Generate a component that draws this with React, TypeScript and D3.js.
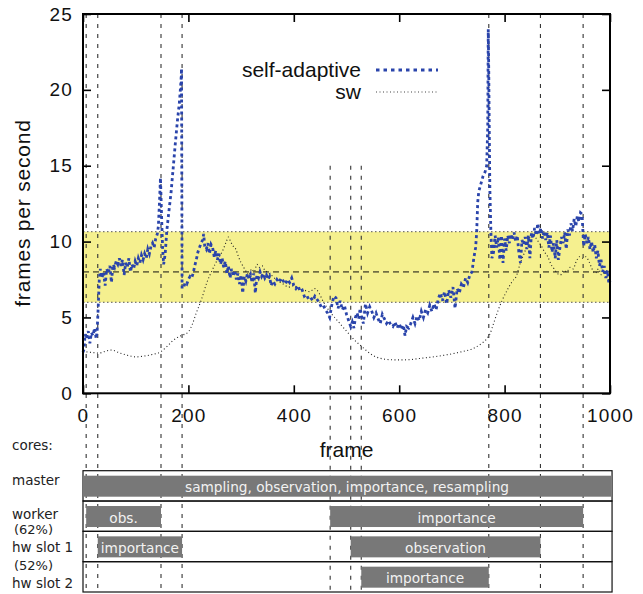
import React, { useEffect, useRef } from "react";
import * as d3 from "d3";

// self-adaptive run (frames per second)
const adaptiveFrames = [
  0, 2, 4, 7, 10, 13, 16, 19, 22, 25, 27, 29, 31, 33, 36, 39, 42, 45, 48, 51, 54, 57, 60, 63, 66, 69, 72, 75, 78, 81,
  84, 87, 90, 93, 96, 99, 102, 105, 108, 111, 114, 117, 120, 123, 126, 129, 132, 135, 138, 141, 143, 145, 147, 149, 151,
  153, 156, 159, 163, 167, 171, 175, 179, 183, 186, 187, 188, 191, 194, 197, 200, 203, 206, 209, 212, 215, 218, 221, 224,
  227, 229, 231, 234, 237, 240, 243, 246, 249, 252, 255, 258, 261, 264, 267, 270, 273, 276, 279, 282, 285, 288, 291, 294,
  297, 300, 303, 306, 309, 312, 315, 318, 321, 324, 327, 330, 333, 336, 339, 342, 345, 348, 351, 354, 357, 360, 364, 368,
  372, 376, 380, 384, 388, 392, 396, 400, 404, 408, 412, 416, 420, 424, 428, 432, 436, 440, 444, 448, 452, 456, 460, 464,
  468, 472, 476, 480, 484, 488, 492, 496, 500, 504, 508, 511, 514, 517, 520, 523, 526, 529, 532, 536, 540, 544, 548, 552,
  556, 560, 564, 568, 572, 576, 580, 584, 588, 592, 596, 600, 604, 608, 611, 614, 618, 622, 626, 630, 634, 638, 642, 646,
  650, 654, 658, 662, 666, 670, 674, 678, 682, 686, 690, 694, 698, 702, 706, 710, 714, 718, 722, 726, 730, 734, 738, 742,
  745, 747, 749, 751, 755, 759, 763, 766, 768, 769, 770, 771, 772, 774, 776, 779, 782, 785, 788, 791, 794, 797, 800, 803,
  806, 809, 812, 815, 818, 821, 824, 827, 830, 833, 836, 839, 842, 845, 848, 851, 854, 857, 860, 863, 866, 869, 872, 875,
  878, 881, 884, 887, 890, 893, 896, 899, 902, 905, 908, 911, 914, 917, 920, 923, 926, 929, 932, 935, 938, 941, 944, 947,
  950, 953, 956, 959, 962, 965, 968, 971, 974, 977, 980, 983, 986, 989, 992, 995, 998, 1000,
];
const adaptiveFps = [
  2.7, 2.9, 3.9, 3.6, 4.1, 3.3, 4.0, 3.8, 4.3, 3.6, 4.2, 5.8, 7.6, 8.2, 7.6, 8.0, 7.1, 8.2, 7.9, 8.4, 7.3, 8.5, 8.3, 8.7,
  8.5, 8.9, 8.4, 8.8, 7.8, 8.6, 8.3, 8.9, 8.0, 8.5, 8.2, 8.7, 8.4, 8.9, 8.6, 9.1, 8.8, 9.2, 8.9, 9.5, 9.2, 9.7, 9.9, 9.6,
  10.2, 10.5, 11.0, 12.5, 14.2, 11.8, 9.6, 8.5, 9.2, 10.7, 12.0, 13.2, 14.8, 16.4, 17.9, 19.2, 20.6, 21.4, 6.9, 7.0, 7.3,
  7.2, 7.5, 7.7, 7.6, 7.9, 8.4, 8.8, 9.3, 9.6, 9.9, 10.1, 10.5, 9.7, 9.5, 9.9, 9.2, 9.8, 9.6, 9.0, 9.4, 8.8, 9.2, 8.5,
  8.9, 8.3, 8.7, 7.9, 8.4, 7.6, 8.2, 7.7, 8.1, 7.5, 7.9, 7.2, 7.8, 6.6, 7.7, 7.4, 7.9, 7.5, 7.8, 7.3, 7.9, 6.6, 7.8, 7.6,
  8.0, 7.7, 7.9, 7.6, 7.8, 7.5, 7.7, 7.1, 7.4, 7.2, 7.5, 7.3, 7.6, 7.4, 7.2, 7.5, 7.3, 7.6, 7.1, 6.9, 7.1, 6.7, 6.8, 6.4,
  6.5, 6.2, 6.3, 6.1, 6.4, 6.2, 6.0, 5.7, 5.8, 5.5, 5.3, 5.0, 5.8, 6.4, 6.3, 5.6, 6.1, 5.5, 5.8, 5.2, 4.8, 4.4, 4.7, 4.3,
  5.0, 5.3, 4.9, 5.6, 5.0, 4.6, 5.9, 5.3, 5.7, 5.4, 5.0, 5.3, 4.9, 4.6, 5.2, 4.9, 4.6, 4.8, 4.5, 4.4, 4.7, 4.3, 4.6, 4.2,
  4.5, 3.8, 4.4, 4.3, 4.6, 5.0, 4.6, 5.1, 4.8, 5.4, 5.0, 5.5, 5.3, 5.8, 5.4, 5.9, 5.5, 6.2, 6.6, 6.1, 6.7, 5.9, 6.8, 6.3,
  7.0, 5.6, 6.9, 6.6, 7.2, 7.0, 7.6, 7.3, 7.8, 8.0, 9.0, 9.6, 10.6, 12.6, 13.3, 13.8, 14.3, 14.6, 15.0, 17.5, 24.0, 21.0,
  17.0, 13.5, 10.6, 8.9, 9.3, 10.4, 9.6, 10.3, 8.8, 10.4, 8.6, 10.2, 9.4, 10.4, 9.9, 10.5, 10.1, 10.6, 10.0, 10.4, 9.3,
  8.6, 10.1, 9.8, 10.3, 9.5, 10.4, 8.9, 10.6, 10.2, 10.9, 10.4, 11.2, 10.5, 10.9, 10.2, 10.7, 10.1, 10.6, 9.6, 10.4, 9.3,
  9.9, 8.9, 10.1, 8.8, 9.6, 10.3, 9.9, 10.6, 9.5, 10.8, 10.4, 11.2, 10.7, 11.5, 11.0, 11.7, 11.3, 11.9, 11.8, 9.7, 10.5,
  9.9, 10.3, 9.5, 10.0, 9.3, 9.8, 8.9, 9.4, 8.4, 8.8, 8.0, 8.4, 7.6, 8.1, 7.2, 7.4,
];

// software-only run
const swFrames = [
  0, 15, 30, 45, 55, 70, 85, 100, 115, 130, 148, 160, 170, 180, 190, 200, 208, 215, 225, 235, 245, 255, 265, 272, 276,
  280, 285, 290, 295, 300, 305, 310, 315, 320, 325, 330, 335, 340, 345, 350, 360, 370, 380, 390, 400, 410, 420, 430, 440,
  448, 455, 462, 470, 480, 490, 500, 510, 520, 530, 540, 550, 565, 580, 600, 620, 640, 660, 680, 700, 720, 740, 755, 765,
  772, 780, 788, 795, 805, 815, 822, 830, 838, 845, 852, 858, 864, 870, 876, 882, 888, 894, 900, 906, 912, 918, 924, 930,
  936, 942, 948, 954, 960, 966, 972, 978, 984, 990, 995, 1000,
];
const swFps = [
  2.75, 2.7, 2.65, 2.8, 2.85, 2.65, 2.5, 2.4, 2.45, 2.55, 2.75, 3.1, 3.45, 3.7, 3.85, 4.05, 4.6, 5.3, 6.2, 7.3, 8.1, 8.8,
  9.4, 10.0, 10.3, 10.0, 9.7, 9.5, 9.0, 8.6, 8.3, 8.0, 7.8, 8.2, 8.0, 8.5, 8.3, 8.4, 8.1, 8.0, 7.7, 7.4, 7.2, 7.0, 7.1,
  6.9, 6.8, 6.7, 6.9, 6.6, 6.1, 5.7, 5.3, 4.9, 4.5, 4.1, 3.7, 3.35, 3.05, 2.75, 2.5, 2.3, 2.22, 2.2, 2.22, 2.3, 2.38,
  2.48, 2.6, 2.75, 2.95, 3.25, 3.55, 3.9, 4.7, 5.5, 6.1, 6.8, 7.4, 7.7, 8.6, 9.3, 10.0, 10.5, 10.3, 10.0, 9.7, 9.3, 9.0,
  8.5, 8.2, 7.9, 7.8, 8.1, 8.0, 8.3, 8.2, 8.7, 9.0, 8.9, 9.0, 8.7, 8.2, 7.9, 8.2, 7.8, 8.0, 7.6, 7.4,
];

const seriesNames = ["self-adaptive", "sw"];
const targetBand = [6, 10.65];
const targetLine = 8;
const xTicks = [0, 200, 400, 600, 800, 1000];
const yTicks = [0, 5, 10, 15, 20, 25];

// phase boundaries (frames) and how high the marker reaches
const markerFrames = [6, 28, 148, 188, 469, 508, 528, 770, 868, 949];
const markerTop = [25, 25, 25, 25, 15, 15, 15, 25, 25, 25];

const coreNames = ["master", "worker", "hw slot 1", "hw slot 2"];
const coreNotes = ["", "(62%)", "(52%)", ""];
const taskCore = [0, 1, 1, 2, 2, 3];
const taskStart = [0, 6, 469, 28, 508, 528];
const taskEnd = [1002, 148, 949, 188, 868, 770];
const taskLabels = [
  "sampling, observation, importance, resampling",
  "obs.",
  "importance",
  "importance",
  "observation",
  "importance",
];

const W = 643;
const H = 594;
const plot = { left: 83, right: 610, top: 14, bottom: 393.3 };
const rowsTop = 470.7;
const rowsBottom = 592;
const labelFont = "'Liberation Sans', Arial, sans-serif";
const rowFont = "'DejaVu Sans', sans-serif";

export default function App() {
  const ref = useRef<SVGSVGElement>(null);

  useEffect(() => {
    document.body.style.margin = "0";
    const svg = d3.select(ref.current);
    svg.selectAll("*").remove();

    const x = d3.scaleLinear().domain([0, 1000]).range([plot.left, plot.right]);
    const y = d3.scaleLinear().domain([0, 25]).range([plot.bottom, plot.top]);
    const rows = d3.scaleBand().domain(coreNames).range([rowsTop, rowsBottom]);

    // target band
    svg.append("rect")
      .attr("x", plot.left).attr("width", plot.right - plot.left)
      .attr("y", y(targetBand[1])).attr("height", y(targetBand[0]) - y(targetBand[1]))
      .attr("fill", "#f5f08f");
    targetBand.forEach((v) => {
      svg.append("line")
        .attr("x1", plot.left).attr("x2", plot.right).attr("y1", y(v)).attr("y2", y(v))
        .attr("stroke", "#555").attr("stroke-width", 1).attr("stroke-dasharray", "1.5,2.5");
    });
    svg.append("line")
      .attr("x1", plot.left).attr("x2", plot.right).attr("y1", y(targetLine)).attr("y2", y(targetLine))
      .attr("stroke", "#111").attr("stroke-width", 1).attr("stroke-dasharray", "6,4");

    // phase markers
    markerFrames.forEach((f, i) => {
      svg.append("line")
        .attr("x1", x(f)).attr("x2", x(f))
        .attr("y1", y(markerTop[i])).attr("y2", rowsBottom)
        .attr("stroke", "#333").attr("stroke-width", 1.1).attr("stroke-dasharray", "4,6");
    });

    // series
    const swPts = swFrames.map((f, i) => [f, swFps[i]] as [number, number]);
    svg.append("path")
      .datum(swPts)
      .attr("d", d3.line<[number, number]>().x((d) => x(d[0])).y((d) => y(d[1])).curve(d3.curveMonotoneX))
      .attr("fill", "none").attr("stroke", "#222").attr("stroke-width", 1.1)
      .attr("stroke-dasharray", "1,2.5");

    const adPts = adaptiveFrames.map((f, i) => [f, adaptiveFps[i]] as [number, number]);
    svg.append("path")
      .datum(adPts)
      .attr("d", d3.line<[number, number]>().x((d) => x(d[0])).y((d) => y(d[1])))
      .attr("fill", "none").attr("stroke", "#2a44ab").attr("stroke-width", 2.8)
      .attr("stroke-dasharray", "3,3");

    // frame + axes
    svg.append("rect")
      .attr("x", plot.left).attr("y", plot.top)
      .attr("width", plot.right - plot.left).attr("height", plot.bottom - plot.top)
      .attr("fill", "none").attr("stroke", "#000").attr("stroke-width", 2);

    const styleAxis = (g: d3.Selection<SVGGElement, unknown, null, undefined>) => {
      g.select(".domain").remove();
      g.selectAll(".tick line").attr("stroke", "#000").attr("stroke-width", 1.6);
      g.selectAll(".tick text")
        .attr("fill", "#111")
        .style("font-family", labelFont)
        .style("font-size", "19px")
        .style("letter-spacing", "1.2px");
    };

    svg.append("g")
      .attr("transform", `translate(0,${plot.bottom})`)
      .call(d3.axisBottom(x).tickValues(xTicks).tickSize(-8).tickSizeOuter(0).tickPadding(15).tickFormat(d3.format("d")))
      .call(styleAxis);
    svg.append("g")
      .attr("transform", `translate(0,${plot.top})`)
      .call(d3.axisTop(x).tickValues(xTicks).tickSize(-8).tickSizeOuter(0).tickFormat(() => ""))
      .call(styleAxis);
    svg.append("g")
      .attr("transform", `translate(${plot.left},0)`)
      .call(d3.axisLeft(y).tickValues(yTicks).tickSize(-8).tickSizeOuter(0).tickPadding(10).tickFormat(d3.format("d")))
      .call(styleAxis);
    svg.append("g")
      .attr("transform", `translate(${plot.right},0)`)
      .call(d3.axisRight(y).tickValues(yTicks).tickSize(-8).tickSizeOuter(0).tickFormat(() => ""))
      .call(styleAxis);

    // axis titles
    svg.append("text")
      .attr("transform", "translate(30,213) rotate(-90)")
      .attr("text-anchor", "middle")
      .style("font-family", labelFont).style("font-size", "21px").style("letter-spacing", "0.8px")
      .attr("fill", "#111")
      .text("frames per second");
    svg.append("text")
      .attr("x", (plot.left + plot.right) / 2).attr("y", 456.5)
      .attr("text-anchor", "middle")
      .style("font-family", labelFont).style("font-size", "21px")
      .attr("fill", "#111")
      .text("frame");

    // legend
    const legendY = [70, 92];
    const legendStyle = [
      { stroke: "#2a44ab", width: 2.8, dash: "3.5,4" },
      { stroke: "#444", width: 1.1, dash: "1,2.5" },
    ];
    seriesNames.forEach((name, i) => {
      svg.append("text")
        .attr("x", 361).attr("y", legendY[i] + 7)
        .attr("text-anchor", "end")
        .style("font-family", labelFont).style("font-size", "21px")
        .attr("fill", "#111")
        .text(name);
      svg.append("line")
        .attr("x1", 376).attr("x2", 438).attr("y1", legendY[i]).attr("y2", legendY[i])
        .attr("stroke", legendStyle[i].stroke).attr("stroke-width", legendStyle[i].width)
        .attr("stroke-dasharray", legendStyle[i].dash);
    });

    // cores section
    svg.append("text")
      .attr("x", 12).attr("y", 450)
      .style("font-family", rowFont).style("font-size", "13.5px")
      .attr("fill", "#222")
      .text("cores:");

    const labelY = [485, 519, 552, 588];
    const noteY = [0, 534, 570, 0];
    coreNames.forEach((c, i) => {
      svg.append("rect")
        .attr("x", plot.left).attr("y", rows(c)!)
        .attr("width", x(1002) - plot.left + 1).attr("height", rows.bandwidth())
        .attr("fill", "none").attr("stroke", "#111").attr("stroke-width", 1.2);
      svg.append("text")
        .attr("x", 12).attr("y", labelY[i])
        .style("font-family", rowFont).style("font-size", "13.5px")
        .attr("fill", "#222")
        .text(c);
      if (coreNotes[i]) {
        svg.append("text")
          .attr("x", 14).attr("y", noteY[i])
          .style("font-family", rowFont).style("font-size", "13px")
          .attr("fill", "#222")
          .text(coreNotes[i]);
      }
    });

    taskLabels.forEach((label, i) => {
      const c = coreNames[taskCore[i]];
      const top = rows(c)! + 5;
      const h = 21;
      svg.append("rect")
        .attr("x", x(taskStart[i])).attr("y", top)
        .attr("width", x(taskEnd[i]) - x(taskStart[i])).attr("height", h)
        .attr("fill", "#787878");
      svg.append("text")
        .attr("x", (x(taskStart[i]) + x(taskEnd[i])) / 2).attr("y", top + h / 2 + 1)
        .attr("text-anchor", "middle").attr("dominant-baseline", "central")
        .style("font-family", rowFont).style("font-size", "13.7px")
        .attr("fill", "#f2f2f2")
        .text(label);
    });
  }, []);

  return (
    <svg
      ref={ref}
      width={W}
      height={H}
      style={{ position: "absolute", left: 0, top: 0, background: "#fff" }}
    />
  );
}
